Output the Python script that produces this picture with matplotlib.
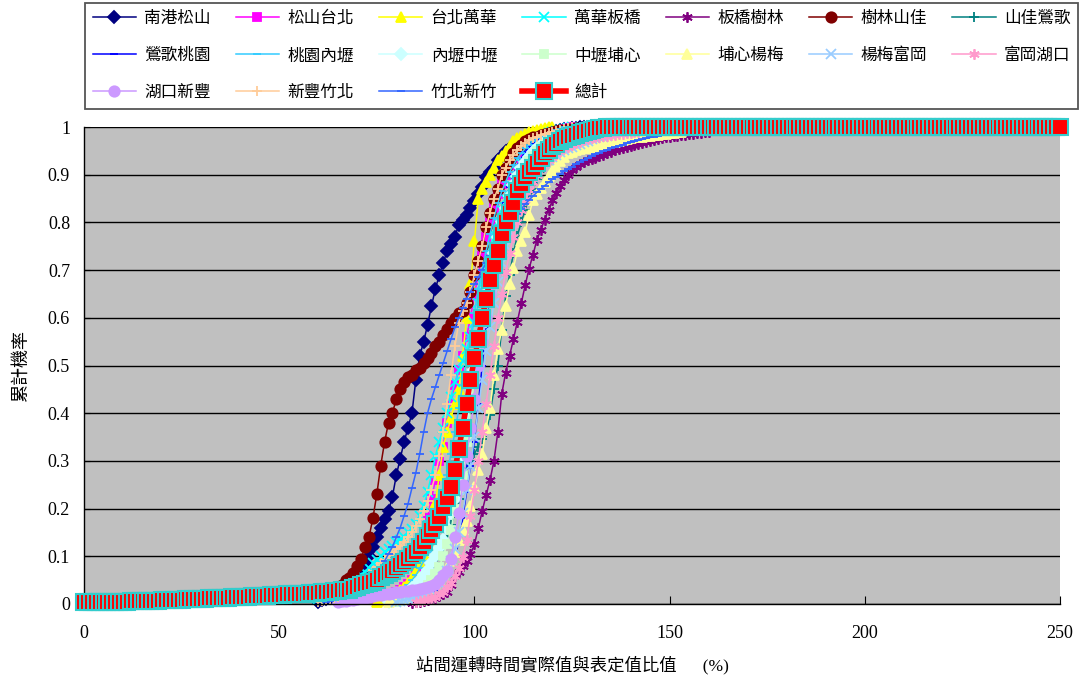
import matplotlib
matplotlib.use('Agg')
import matplotlib.pyplot as plt

plt.rcParams['font.family'] = ['Liberation Serif', 'Noto Sans CJK TC']

# station pairs (legend order)
labels = ['南港松山', '松山台北', '台北萬華', '萬華板橋', '板橋樹林', '樹林山佳', '山佳鶯歌',
          '鶯歌桃園', '桃園內壢', '內壢中壢', '中壢埔心', '埔心楊梅', '楊梅富岡', '富岡湖口',
          '湖口新豐', '新豐竹北', '竹北新竹']
total_label = '總計'

# first x (%) of each series, values go on at step 1
x_start = [60, 75, 75, 60, 84, 62, 78, 82, 72, 78, 80, 78, 80, 85, 65, 60, 62]

s01 = [0.005, 0.008, 0.01, 0.012, 0.015, 0.018, 0.02, 0.025, 0.03, 0.04,
       0.048, 0.065, 0.085, 0.1, 0.12, 0.14, 0.16, 0.178, 0.195, 0.225,
       0.27, 0.305, 0.34, 0.37, 0.4, 0.47, 0.52, 0.55, 0.585, 0.625,
       0.66, 0.69, 0.715, 0.74, 0.755, 0.77, 0.795, 0.805, 0.815, 0.83,
       0.845, 0.86, 0.875, 0.895, 0.905, 0.915, 0.93, 0.94, 0.95, 0.955,
       0.96, 0.965, 0.97, 0.973, 0.977, 0.98, 0.982, 0.984, 0.986, 0.988,
       0.99, 0.992, 0.993, 0.995, 0.996, 0.997, 0.998, 0.999, 1.0]
s02 = [0.01, 0.013, 0.016, 0.019, 0.022, 0.025, 0.03, 0.035, 0.042, 0.05,
       0.07, 0.1, 0.14, 0.18, 0.22, 0.26, 0.3, 0.33, 0.38, 0.42,
       0.46, 0.49, 0.52, 0.56, 0.6, 0.65, 0.69, 0.73, 0.77, 0.8,
       0.83, 0.86, 0.88, 0.9, 0.92, 0.935, 0.945, 0.955, 0.963, 0.97,
       0.975, 0.98, 0.983, 0.986, 0.988, 0.99, 0.992, 0.994, 0.996, 0.998, 1.0]
s03 = [0.005, 0.008, 0.011, 0.015, 0.02, 0.025, 0.03, 0.035, 0.045, 0.055,
       0.07, 0.085, 0.105, 0.13, 0.17, 0.21, 0.27, 0.33, 0.36, 0.39,
       0.42, 0.45, 0.52, 0.6, 0.67, 0.76, 0.85, 0.87, 0.885, 0.9,
       0.915, 0.93, 0.94, 0.95, 0.96, 0.97, 0.977, 0.982, 0.986, 0.99,
       0.992, 0.994, 0.996, 0.997, 0.999, 1.0]
s04 = [0.01, 0.012, 0.015, 0.017, 0.02, 0.025, 0.03, 0.035, 0.04, 0.048,
       0.055, 0.06, 0.067, 0.075, 0.085, 0.092, 0.1, 0.11, 0.115, 0.122,
       0.13, 0.135, 0.14, 0.15, 0.158, 0.168, 0.185, 0.205, 0.235, 0.27,
       0.31, 0.34, 0.37, 0.4, 0.435, 0.465, 0.49, 0.51, 0.535, 0.56,
       0.59, 0.63, 0.67, 0.71, 0.745, 0.775, 0.8, 0.825, 0.85, 0.87,
       0.89, 0.91, 0.925, 0.94, 0.955, 0.965, 0.972, 0.978, 0.983, 0.987,
       0.99, 0.992, 0.994, 0.996, 0.998, 1.0]
s05 = [0.003, 0.004, 0.005, 0.007, 0.009, 0.011, 0.013, 0.016, 0.02, 0.025,
       0.04, 0.058, 0.068, 0.08, 0.091, 0.104, 0.125, 0.159, 0.195, 0.228,
       0.26, 0.3, 0.36, 0.44, 0.485, 0.52, 0.555, 0.592, 0.63, 0.668,
       0.703, 0.732, 0.763, 0.784, 0.806, 0.827, 0.846, 0.861, 0.876, 0.888,
       0.899, 0.909, 0.917, 0.922, 0.926, 0.93, 0.933, 0.936, 0.939, 0.942,
       0.945, 0.948, 0.951, 0.953, 0.955, 0.958, 0.96, 0.962, 0.964, 0.966,
       0.968, 0.97, 0.972, 0.974, 0.976, 0.978, 0.98, 0.981, 0.982, 0.983,
       0.984, 0.985, 0.986, 0.987, 0.988, 0.989, 0.99]
s06 = [0.02, 0.025, 0.03, 0.035, 0.04, 0.05,
       0.055, 0.065, 0.08, 0.095, 0.12, 0.14, 0.18, 0.23, 0.29, 0.34,
       0.38, 0.4, 0.43, 0.45, 0.465, 0.475, 0.48, 0.49, 0.495, 0.505,
       0.515, 0.527, 0.54, 0.55, 0.564, 0.576, 0.59, 0.6, 0.61, 0.615,
       0.63, 0.655, 0.69, 0.72, 0.75, 0.79, 0.82, 0.85, 0.87, 0.9,
       0.915, 0.93, 0.945, 0.955, 0.962, 0.97, 0.974, 0.978, 0.98, 0.984,
       0.986, 0.988, 0.99, 0.992, 0.993, 0.994, 0.995, 0.996, 0.997, 0.998,
       0.999, 1.0]
s07 = [0.005, 0.008, 0.01, 0.013, 0.017, 0.022, 0.03, 0.037, 0.045, 0.053,
       0.06, 0.072, 0.085, 0.1, 0.12, 0.14, 0.165, 0.19, 0.22, 0.255,
       0.285, 0.3, 0.315, 0.33, 0.345, 0.36, 0.396, 0.45, 0.5, 0.575,
       0.645, 0.69, 0.736, 0.772, 0.8, 0.827, 0.85, 0.87, 0.89, 0.905,
       0.918, 0.93, 0.94, 0.946, 0.952, 0.957, 0.961, 0.965, 0.968, 0.972,
       0.975, 0.978, 0.98, 0.982, 0.984, 0.986, 0.988, 0.99]
s08 = [0.005, 0.007, 0.009, 0.01, 0.013, 0.016, 0.02, 0.025, 0.03, 0.04,
       0.05, 0.065, 0.08, 0.1, 0.13, 0.18, 0.235, 0.29, 0.34, 0.42,
       0.5, 0.58, 0.65, 0.71, 0.76, 0.8, 0.84, 0.875, 0.9, 0.92,
       0.935, 0.948, 0.958, 0.966, 0.972, 0.977, 0.981, 0.985, 0.988, 0.99,
       0.992, 0.994, 0.996, 0.998, 1.0]
s09 = [0.005, 0.007, 0.009, 0.01, 0.013, 0.016, 0.019, 0.022, 0.025, 0.03,
       0.035, 0.04, 0.05, 0.06, 0.075, 0.09, 0.11, 0.13, 0.16, 0.19,
       0.23, 0.27, 0.315, 0.36, 0.41, 0.46, 0.51, 0.56, 0.61, 0.66,
       0.7, 0.74, 0.775, 0.81, 0.84, 0.865, 0.885, 0.905, 0.92, 0.935,
       0.945, 0.955, 0.963, 0.97, 0.976, 0.98, 0.984, 0.987, 0.99, 0.993,
       0.996, 1.0]
s10 = [0.005, 0.008, 0.01, 0.015, 0.02, 0.026, 0.033, 0.04, 0.05, 0.06,
       0.072, 0.085, 0.1, 0.117, 0.134, 0.16, 0.19, 0.22, 0.26, 0.31,
       0.37, 0.43, 0.49, 0.55, 0.6, 0.65, 0.695, 0.735, 0.77, 0.8,
       0.83, 0.855, 0.878, 0.897, 0.913, 0.926, 0.937, 0.947, 0.955, 0.962,
       0.968, 0.973, 0.977, 0.98, 0.983, 0.985, 0.987, 0.989, 0.99, 0.992,
       0.993, 0.995, 0.996]
s11 = [0.005, 0.007, 0.01, 0.012, 0.016, 0.02, 0.025, 0.032, 0.04, 0.05,
       0.062, 0.078, 0.1, 0.125, 0.155, 0.2, 0.24, 0.27, 0.34, 0.41,
       0.47, 0.53, 0.59, 0.64, 0.685, 0.725, 0.76, 0.79, 0.815, 0.84,
       0.865, 0.885, 0.9, 0.915, 0.928, 0.94, 0.95, 0.958, 0.965, 0.971,
       0.976, 0.98, 0.983, 0.986, 0.988, 0.99, 0.992, 0.994, 0.996]
s12 = [0.005, 0.008, 0.01, 0.012, 0.014, 0.016, 0.019, 0.022, 0.026, 0.03,
       0.034, 0.039, 0.044, 0.05, 0.062, 0.075, 0.09, 0.11, 0.135, 0.155,
       0.175, 0.205, 0.245, 0.28, 0.315, 0.37, 0.41, 0.48, 0.535, 0.574,
       0.625, 0.67, 0.704, 0.74, 0.76, 0.78, 0.815, 0.847, 0.86, 0.872,
       0.885, 0.897, 0.908, 0.918, 0.928, 0.937, 0.945, 0.948, 0.951, 0.953,
       0.955, 0.957, 0.959, 0.961, 0.963, 0.965, 0.967, 0.968, 0.969, 0.97,
       0.972, 0.974, 0.976, 0.978, 0.979, 0.98, 0.981, 0.982, 0.983, 0.984,
       0.985, 0.986, 0.987, 0.988, 0.989, 0.99]
s13 = [0.005, 0.007, 0.009, 0.01, 0.012, 0.015, 0.017, 0.02, 0.025, 0.03,
       0.037, 0.045, 0.057, 0.07, 0.09, 0.115, 0.15, 0.19, 0.24, 0.29,
       0.35, 0.41, 0.47, 0.53, 0.58, 0.63, 0.675, 0.715, 0.75, 0.78,
       0.805, 0.83, 0.85, 0.868, 0.883, 0.896, 0.907, 0.916, 0.924, 0.931,
       0.937, 0.942, 0.947, 0.951, 0.955, 0.959, 0.962, 0.965, 0.968, 0.971,
       0.974, 0.976, 0.978, 0.98, 0.982, 0.984, 0.985, 0.987, 0.988, 0.989,
       0.99]
s14 = [0.005, 0.007, 0.008, 0.01, 0.012, 0.015, 0.02, 0.025, 0.035, 0.045,
       0.058, 0.075, 0.098, 0.135, 0.185, 0.24, 0.3, 0.36, 0.42, 0.48,
       0.54, 0.6, 0.65, 0.695, 0.735, 0.77, 0.8, 0.825, 0.848, 0.868,
       0.885, 0.9, 0.912, 0.922, 0.931, 0.938, 0.944, 0.95, 0.955, 0.959,
       0.963, 0.966, 0.969, 0.972, 0.974, 0.976, 0.978, 0.979, 0.981, 0.982,
       0.983, 0.984, 0.985, 0.986, 0.987, 0.988, 0.989, 0.99]
s15 = [0.005, 0.006, 0.007, 0.008, 0.009, 0.01, 0.012, 0.013, 0.015, 0.016,
       0.018, 0.019, 0.021, 0.022, 0.024, 0.025, 0.026, 0.027, 0.028, 0.029,
       0.03, 0.031, 0.033, 0.035, 0.038, 0.042, 0.05, 0.06, 0.07, 0.095,
       0.14, 0.19, 0.25, 0.31, 0.37, 0.43, 0.5, 0.55, 0.6, 0.65,
       0.69, 0.73, 0.765, 0.795, 0.82, 0.845, 0.865, 0.883, 0.9, 0.913,
       0.925, 0.935, 0.944, 0.952, 0.958, 0.964, 0.969, 0.973, 0.977, 0.98,
       0.983, 0.985, 0.987, 0.989, 0.99, 0.992]
s16 = [0.005, 0.007, 0.009, 0.011, 0.013, 0.015, 0.019, 0.024, 0.029, 0.034,
       0.04, 0.047, 0.055, 0.062, 0.07, 0.077, 0.085, 0.092, 0.1, 0.107,
       0.115, 0.122, 0.13, 0.14, 0.15, 0.163, 0.178, 0.195, 0.215, 0.24,
       0.27, 0.31, 0.36, 0.42, 0.48, 0.54, 0.59, 0.615, 0.63, 0.655,
       0.69, 0.72, 0.75, 0.79, 0.82, 0.85, 0.87, 0.9, 0.915, 0.93,
       0.942, 0.952, 0.96, 0.967, 0.972, 0.977, 0.98, 0.983, 0.986, 0.988,
       0.99, 0.992, 0.994, 0.996, 0.998, 1.0]
s17 = [0.005, 0.007, 0.01, 0.012, 0.015, 0.018, 0.022, 0.027, 0.033, 0.04,
       0.046, 0.053, 0.06, 0.068, 0.077, 0.09, 0.105, 0.12, 0.14, 0.16,
       0.185, 0.21, 0.243, 0.275, 0.315, 0.36, 0.4, 0.43, 0.455, 0.48,
       0.505, 0.53, 0.555, 0.58, 0.6, 0.62, 0.64, 0.655, 0.67, 0.685,
       0.7, 0.715, 0.73, 0.745, 0.758, 0.77, 0.782, 0.795, 0.806, 0.817,
       0.828, 0.838, 0.847, 0.855, 0.863, 0.87, 0.877, 0.884, 0.89, 0.896,
       0.902, 0.907, 0.912, 0.917, 0.922, 0.927, 0.931, 0.935, 0.939, 0.943,
       0.946, 0.949, 0.952, 0.955, 0.958, 0.961, 0.963, 0.966, 0.968, 0.97,
       0.972, 0.974, 0.976, 0.978, 0.98, 0.982, 0.983, 0.985, 0.986, 0.987,
       0.988, 0.989, 0.99]

# 總計, x = 0 .. 250
total = [0.004, 0.004, 0.004, 0.004, 0.004, 0.004, 0.004, 0.005, 0.005, 0.005,
         0.005, 0.005, 0.006, 0.006, 0.006, 0.006, 0.007, 0.007, 0.007, 0.007,
         0.008, 0.008, 0.008, 0.009, 0.009, 0.009, 0.010, 0.010, 0.010, 0.011,
         0.011, 0.011, 0.012, 0.012, 0.012, 0.013, 0.013, 0.013, 0.014, 0.014,
         0.014, 0.015, 0.015, 0.016, 0.016, 0.016, 0.017, 0.017, 0.018, 0.018,
         0.019, 0.019, 0.020, 0.020, 0.021, 0.021, 0.022, 0.022, 0.023, 0.023,
         0.024, 0.025, 0.026, 0.026, 0.027, 0.028, 0.029, 0.030, 0.030, 0.033,
         0.036, 0.039, 0.041, 0.044, 0.047, 0.051, 0.056, 0.060, 0.065, 0.070,
         0.076, 0.081, 0.088, 0.095, 0.103, 0.110, 0.120, 0.131, 0.142, 0.155,
         0.168, 0.183, 0.203, 0.222, 0.245, 0.280, 0.325, 0.370, 0.420, 0.470,
         0.515, 0.555, 0.600, 0.640, 0.680, 0.710, 0.740, 0.775, 0.800, 0.820,
         0.840, 0.865, 0.880, 0.895, 0.905, 0.915, 0.925, 0.935, 0.945, 0.952,
         0.960, 0.965, 0.970, 0.975, 0.978, 0.981, 0.984, 0.987, 0.990, 0.992,
         0.994, 0.996, 0.997, 0.998, 0.999,
         1, 1, 1, 1, 1, 1, 1, 1, 1, 1, 1, 1, 1, 1, 1, 1, 1, 1, 1, 1,
         1, 1, 1, 1, 1, 1, 1, 1, 1, 1, 1, 1, 1, 1, 1, 1, 1, 1, 1, 1,
         1, 1, 1, 1, 1, 1, 1, 1, 1, 1, 1, 1, 1, 1, 1, 1, 1, 1, 1, 1,
         1, 1, 1, 1, 1, 1, 1, 1, 1, 1, 1, 1, 1, 1, 1, 1, 1, 1, 1, 1,
         1, 1, 1, 1, 1, 1, 1, 1, 1, 1, 1, 1, 1, 1, 1, 1, 1, 1, 1, 1,
         1, 1, 1, 1, 1, 1, 1, 1, 1, 1, 1, 1, 1, 1, 1, 1]

series = [s01, s02, s03, s04, s05, s06, s07, s08, s09, s10,
          s11, s12, s13, s14, s15, s16, s17]

colors = ['#000080', '#FF00FF', '#FFFF00', '#00FFFF', '#800080', '#800000', '#008080',
          '#0000FF', '#33CCFF', '#CCFFFF', '#CCFFCC', '#FFFF99', '#99CCFF', '#FF99CC',
          '#CC99FF', '#FFCC99', '#3366FF']
star = (6, 2, 0)
markers = ['D', 's', '^', 'x', star, 'o', '+', '_', '_', 'D', 's', '^', 'x', star,
           'o', '+', '_']
msizes = [6, 5.5, 7.5, 6.5, 7.5, 7.5, 7.5, 5.5, 5.5, 6, 5.5, 7.5, 6.5, 7.5, 7.5, 7.5, 5.5]

fig = plt.figure(figsize=(10.81, 6.82), dpi=100)
ax = fig.add_axes([84 / 1081, 1 - 604 / 682, 976 / 1081, 477 / 682])
ax.set_facecolor('#C0C0C0')

handles = []
for i, ys in enumerate(series):
    xs = list(range(x_start[i], x_start[i] + len(ys)))
    line, = ax.plot(xs, ys, color=colors[i], lw=1.1, marker=markers[i], ms=msizes[i],
                    mfc=colors[i], mec=colors[i], mew=1.3, clip_on=False, zorder=2)
    handles.append(line)

tline, = ax.plot(list(range(len(total))), total, color='#FF0000', lw=4, marker='s', ms=11,
                 mfc='#FF0000', mec='#33CCCC', mew=1.5, clip_on=False, zorder=3)
handles.append(tline)
all_labels = labels + [total_label]

ax.set_xlim(0, 250)
ax.set_ylim(0, 1)
ax.set_xticks([0, 50, 100, 150, 200, 250])
ax.set_yticks([i / 10 for i in range(11)])
ax.set_yticklabels(['0', '0.1', '0.2', '0.3', '0.4', '0.5', '0.6', '0.7', '0.8', '0.9', '1'])
ax.yaxis.grid(True, color='black', lw=1)
ax.set_axisbelow(True)
ax.tick_params(axis='x', direction='in', length=6, pad=15, labelsize=13, color='black')
ax.tick_params(axis='y', direction='in', length=4, pad=10, labelsize=13, color='black')
for side in ['top', 'right']:
    ax.spines[side].set_visible(False)
for side in ['left', 'bottom']:
    ax.spines[side].set_color('black')
    ax.spines[side].set_linewidth(1)

ax.set_ylabel('累計機率', fontsize=13)
ax.yaxis.set_label_coords(-0.055, 0.5)
ax.set_xlabel('站間運轉時間實際值與表定值比值　  (%)', fontsize=12.5)
ax.xaxis.set_label_coords(0.5, -0.108)

# Excel fills the legend by rows, matplotlib by columns
order = [0, 7, 14, 1, 8, 15, 2, 9, 16, 3, 10, 17, 4, 11, 5, 12, 6, 13]
leg = fig.legend([handles[k] for k in order], [all_labels[k] for k in order],
                 loc='center', bbox_to_anchor=(85 / 1081, 1 - 107 / 682, 993 / 1081, 103 / 682),
                 mode='expand', ncol=7, prop={'family': 'Noto Sans CJK TC', 'size': 12},
                 frameon=True, fancybox=False, edgecolor='#555555', framealpha=1,
                 borderaxespad=0, handlelength=2.6, handletextpad=0.5,
                 labelspacing=1.2, borderpad=0.45)
leg.get_frame().set_linewidth(1.3)

fig.savefig('out.png', dpi=100)
